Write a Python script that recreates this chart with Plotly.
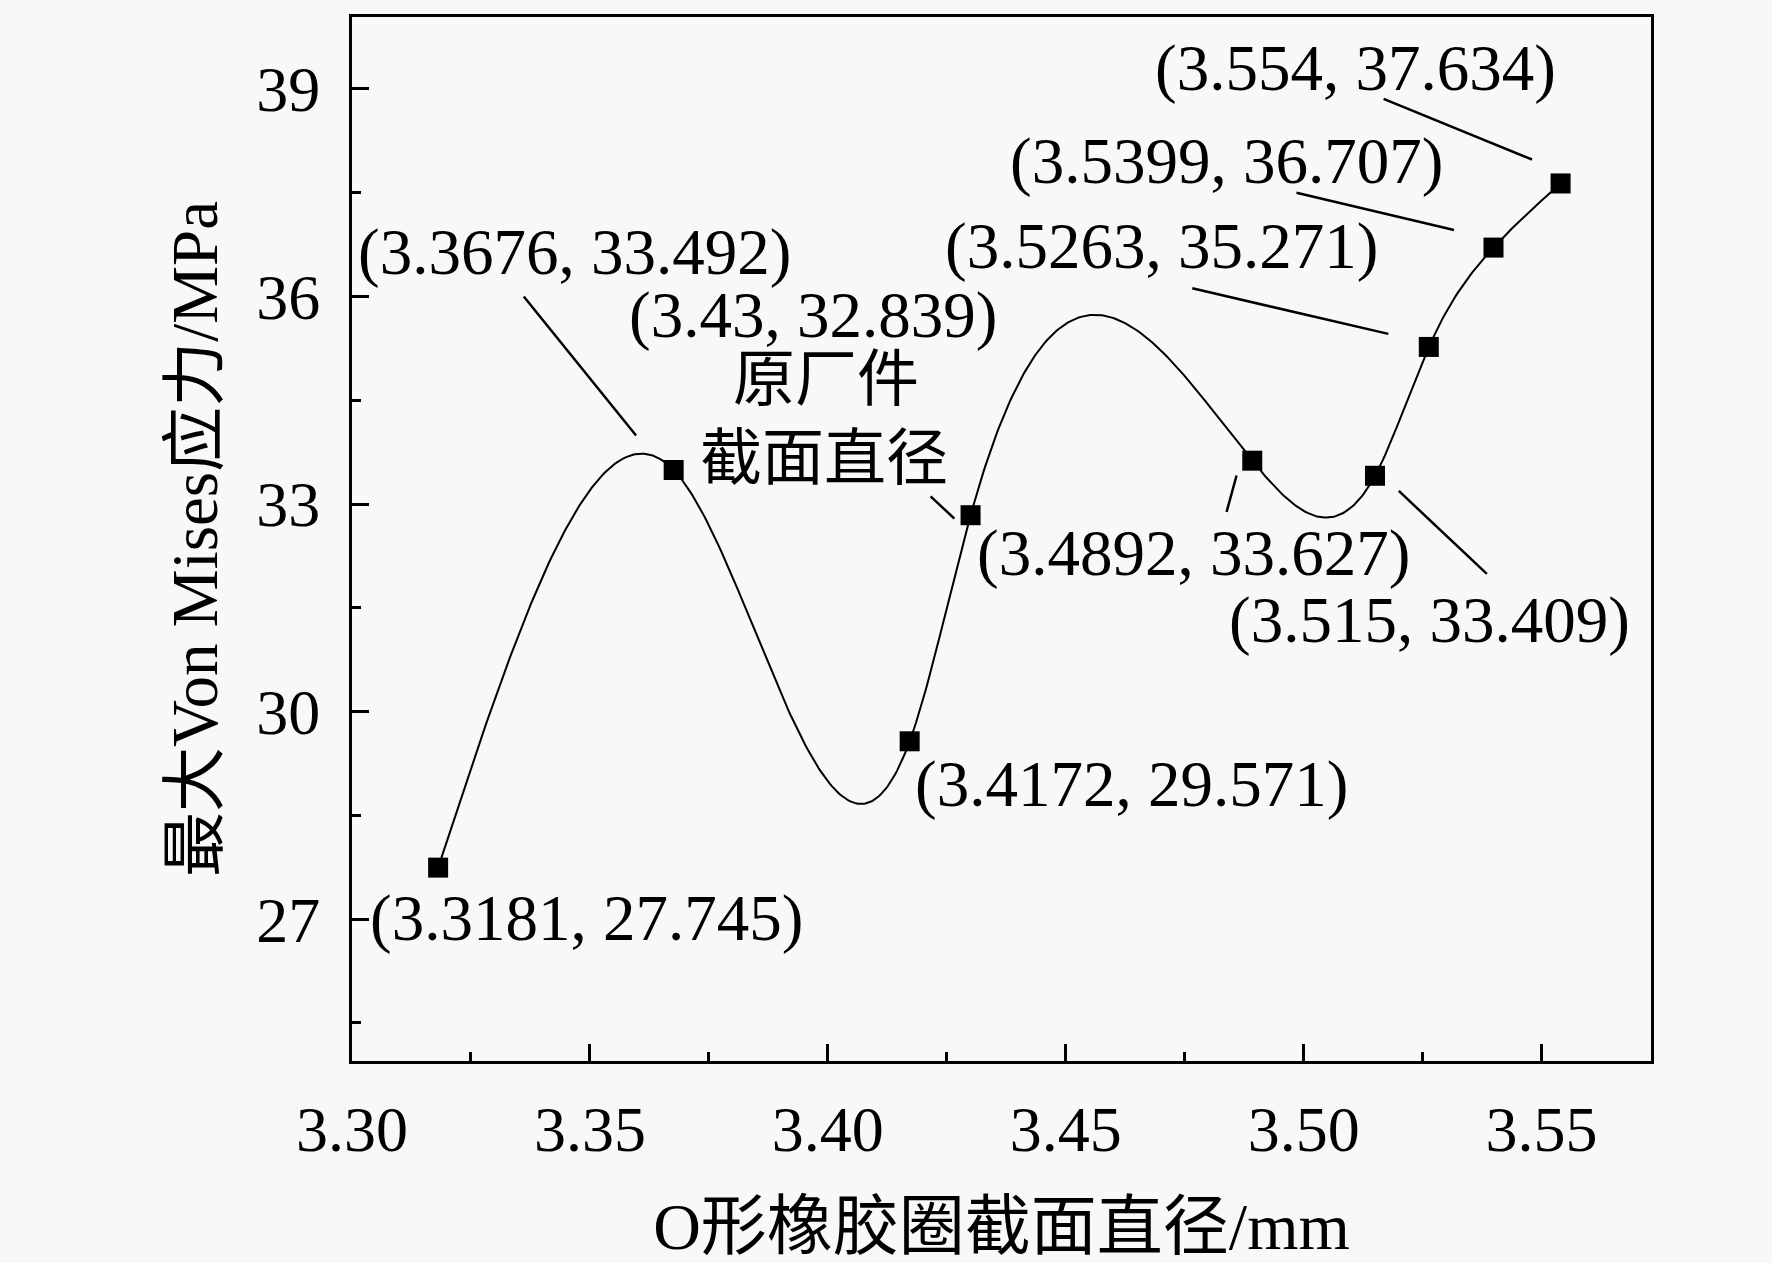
import numpy as np
import plotly.graph_objects as go

# ---- data ----
diameter = [3.3181, 3.3676, 3.4172, 3.43, 3.4892, 3.515, 3.5263, 3.5399, 3.554]
stress = [27.745, 33.492, 29.571, 32.839, 33.627, 33.409, 35.271, 36.707, 37.634]
x_ticks = [3.30, 3.35, 3.40, 3.45, 3.50, 3.55]
x_ticklabels = ["3.30", "3.35", "3.40", "3.45", "3.50", "3.55"]
y_ticks = [27, 30, 33, 36, 39]
x_title = "O形橡胶圈截面直径/mm"
y_title = "最大Von Mises应力/MPa"
note_lines = ["原厂件", "截面直径"]

# ---- label placement (data coords) ----
label_pos = [  # (x, y, xanchor)
    (3.3033, 27.01, "left"),
    (3.3009, 36.65, "left"),
    (3.4179, 28.96, "left"),
    (3.3577, 35.73, "left"),
    (3.4309, 32.29, "left"),
    (3.4838, 31.32, "left"),
    (3.5160, 36.73, "right"),
    (3.5297, 37.96, "right"),
    (3.4683, 39.30, "left"),
]
note_pos = [(3.3996, 34.80), (3.3992, 33.65)]
leaders = [
    (3.3361, 36.00, 3.3597, 33.99),
    (3.4216, 33.11, 3.4266, 32.79),
    (3.4838, 32.885, 3.4859, 33.413),
    (3.5200, 33.19, 3.5385, 31.99),
    (3.5168, 38.856, 3.5480, 37.98),
    (3.4985, 37.50, 3.5316, 36.96),
    (3.4766, 36.118, 3.5178, 35.46),
]

SERIF = "Liberation Serif, Times New Roman, Noto Sans CJK SC, serif"
BG = "#f8f8f8"


def natural_cubic_spline(xs, ys, n=600):
    xs = np.asarray(xs, float)
    ys = np.asarray(ys, float)
    k = len(xs)
    h = np.diff(xs)
    A = np.zeros((k, k))
    r = np.zeros(k)
    A[0, 0] = 1.0
    A[-1, -1] = 1.0
    for i in range(1, k - 1):
        A[i, i - 1] = h[i - 1]
        A[i, i] = 2 * (h[i - 1] + h[i])
        A[i, i + 1] = h[i]
        r[i] = 6 * ((ys[i + 1] - ys[i]) / h[i] - (ys[i] - ys[i - 1]) / h[i - 1])
    M = np.linalg.solve(A, r)
    xx = np.linspace(xs[0], xs[-1], n)
    idx = np.clip(np.searchsorted(xs, xx) - 1, 0, k - 2)
    x0, x1 = xs[idx], xs[idx + 1]
    hh = x1 - x0
    a = (x1 - xx) / hh
    b = (xx - x0) / hh
    yy = (a * ys[idx] + b * ys[idx + 1]
          + ((a ** 3 - a) * M[idx] + (b ** 3 - b) * M[idx + 1]) * hh ** 2 / 6)
    return xx, yy


sx, sy = natural_cubic_spline(diameter, stress)

fig = go.Figure()
fig.add_trace(go.Scatter(x=sx, y=sy, mode="lines",
                         line=dict(color="black", width=2), hoverinfo="skip",
                         showlegend=False))
fig.add_trace(go.Scatter(x=diameter, y=stress, mode="markers",
                         marker=dict(symbol="square", size=20, color="black",
                                     line=dict(width=0)),
                         showlegend=False))

for (xd, yd), (lx, ly, anc) in zip(zip(diameter, stress), label_pos):
    fig.add_annotation(x=lx, y=ly, xref="x", yref="y", text=f"({xd:g}, {yd:g})",
                       showarrow=False, xanchor=anc, yanchor="middle",
                       font=dict(family=SERIF, size=65, color="black"))

for txt, (nx, ny) in zip(note_lines, note_pos):
    fig.add_annotation(x=nx, y=ny, xref="x", yref="y", text=txt,
                       showarrow=False, xanchor="center", yanchor="middle",
                       font=dict(family=SERIF, size=62, color="black"))

for x0, y0, x1, y1 in leaders:
    fig.add_shape(type="line", x0=x0, y0=y0, x1=x1, y1=y1, xref="x", yref="y",
                  line=dict(color="black", width=2.5))

axis_common = dict(showline=True, linecolor="black", linewidth=3, mirror=True,
                   ticks="inside", ticklen=17, tickwidth=3, tickcolor="black",
                   showgrid=False, zeroline=False,
                   tickfont=dict(family=SERIF, size=64, color="black"))

fig.update_xaxes(range=[3.30, 3.573], tickvals=x_ticks, ticktext=x_ticklabels,
                 minor=dict(ticks="inside", ticklen=9, tickwidth=3, dtick=0.025,
                            tick0=3.30, tickcolor="black"),
                 title=dict(text=x_title, font=dict(family=SERIF, size=66, color="black"),
                            standoff=40),
                 ticklabelstandoff=10,
                 **axis_common)
fig.update_yaxes(range=[24.95, 40.04], tickvals=y_ticks,
                 minor=dict(ticks="inside", ticklen=9, tickwidth=3, dtick=1.5,
                            tick0=25.5, tickcolor="black"),
                 title=dict(text=y_title, font=dict(family=SERIF, size=65, color="black"),
                            standoff=18),
                 ticklabelstandoff=16,
                 **axis_common)

fig.update_layout(width=1772, height=1263,
                  margin=dict(l=352, r=121, t=17, b=197),
                  paper_bgcolor=BG, plot_bgcolor=BG,
                  showlegend=False)

fig.write_html("out.html", config={"displayModeBar": False},
               post_script="document.body.style.margin='0px';"
                           "document.body.style.background='" + BG + "';")
